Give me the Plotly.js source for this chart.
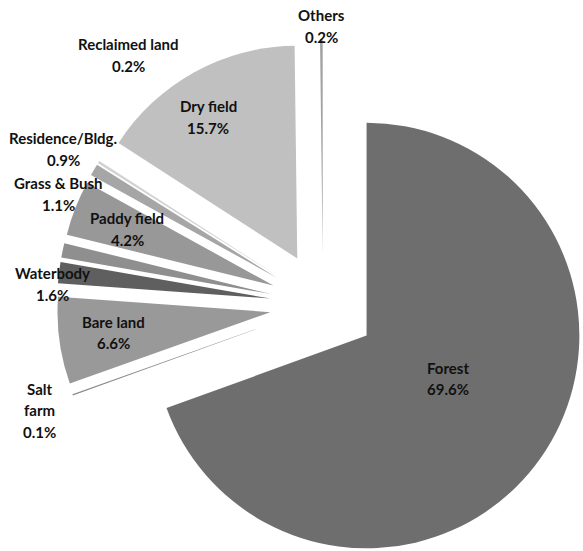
<!DOCTYPE html>
<html>
<head>
<meta charset="utf-8">
<script src="https://cdn.plot.ly/plotly-3.0.1.min.js"></script>
<style>
  html, body { margin: 0; padding: 0; overflow: hidden; background: #fff; }
  #chart { width: 600px; height: 600px; }
</style>
</head>
<body>
<div id="chart"></div>
<script>
// ---- data ----
const categories = ["Forest", "Salt farm", "Bare land", "Waterbody", "Grass & Bush",
                    "Paddy field", "Residence/Bldg.", "Reclaimed land", "Dry field", "Others"];
const shares = [69.6, 0.1, 6.6, 1.6, 1.1, 4.2, 0.9, 0.2, 15.7, 0.2];
// how each category name is broken into lines on the chart
const labelLines = [["Forest"], ["Salt", "farm"], ["Bare land"], ["Waterbody"], ["Grass & Bush"],
                    ["Paddy field"], ["Residence/Bldg."], ["Reclaimed land"], ["Dry field"], ["Others"]];

// ---- styling ----
const sliceColors = ["#6e6e6e", "#8a8a8a", "#999999", "#5f5f5f", "#8f8f8f",
                     "#989898", "#a6a6a6", "#d2d2d2", "#c0c0c0", "#a3a3a3"];
// pixel centre of the first text line of each label
const labelPos = [[448, 368], [39, 389], [113, 322], [52, 273], [58, 183],
                  [127, 218], [63, 138], [128, 44], [208, 106], [321, 15]];
const lineGap = 21.5;

const W = 600, H = 600;
const M = { l: 56.75, r: 10.75, t: 38.75, b: 28.75 };
const pw = W - M.l - M.r, ph = H - M.t - M.b;
const toPaper = (px, py) => [(px - M.l) / pw, 1 - (py - M.t) / ph];
const font = { family: "Lato, 'Open Sans', sans-serif", size: 15, color: "#111111", weight: "bold" };

const annotations = [];
categories.forEach((c, i) => {
  const lines = labelLines[i].concat([shares[i].toFixed(1) + "%"]);
  lines.forEach((t, k) => {
    const [x, y] = toPaper(labelPos[i][0], labelPos[i][1] + k * lineGap);
    annotations.push({
      xref: "paper", yref: "paper", x: x, y: y, text: t,
      showarrow: false, xanchor: "center", yanchor: "middle", font: font
    });
  });
});

const trace = {
  type: "pie",
  labels: categories,
  values: shares,
  sort: false,
  direction: "clockwise",
  rotation: 0,
  pull: categories.map(() => 0.25),
  marker: { colors: sliceColors, line: { width: 0 } },
  textinfo: "none",
  hoverinfo: "none",
  showlegend: false
};

Plotly.newPlot("chart", [trace], {
  width: W, height: H,
  margin: M,
  paper_bgcolor: "#ffffff",
  plot_bgcolor: "#ffffff",
  showlegend: false,
  annotations: annotations
}, { staticPlot: true, displayModeBar: false });
</script>
</body>
</html>
